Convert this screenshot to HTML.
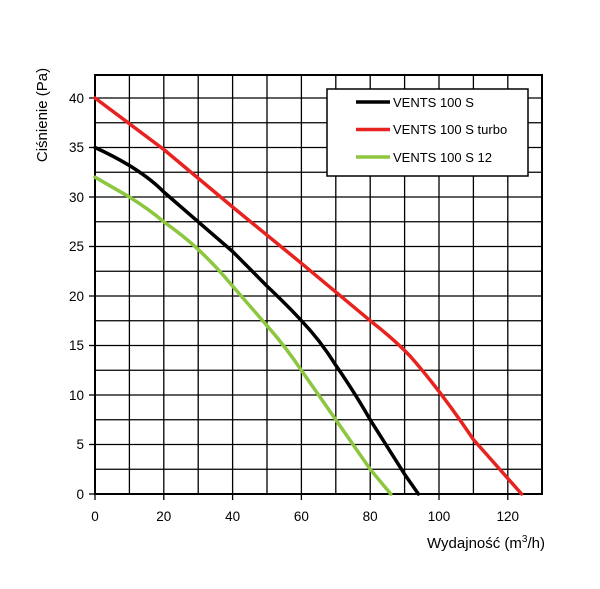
<!DOCTYPE html>
<html><head><meta charset="utf-8"><style>
html,body{margin:0;padding:0;background:#fff;}
svg{display:block;font-family:"Liberation Sans",sans-serif;}
</style></head><body>
<svg width="600" height="589" viewBox="0 0 600 589" xmlns="http://www.w3.org/2000/svg">
<g stroke="#000" stroke-width="1.3">
<line x1="129.4" y1="75" x2="129.4" y2="494"/><line x1="163.8" y1="75" x2="163.8" y2="494"/>
<line x1="198.2" y1="75" x2="198.2" y2="494"/><line x1="232.6" y1="75" x2="232.6" y2="494"/>
<line x1="267" y1="75" x2="267" y2="494"/><line x1="301.4" y1="75" x2="301.4" y2="494"/>
<line x1="335.8" y1="75" x2="335.8" y2="494"/><line x1="370.2" y1="75" x2="370.2" y2="494"/>
<line x1="404.6" y1="75" x2="404.6" y2="494"/><line x1="439" y1="75" x2="439" y2="494"/>
<line x1="473.4" y1="75" x2="473.4" y2="494"/><line x1="507.8" y1="75" x2="507.8" y2="494"/>
<line x1="95" y1="469.25" x2="542" y2="469.25"/><line x1="95" y1="444.5" x2="542" y2="444.5"/>
<line x1="95" y1="419.75" x2="542" y2="419.75"/><line x1="95" y1="395" x2="542" y2="395"/>
<line x1="95" y1="370.25" x2="542" y2="370.25"/><line x1="95" y1="345.5" x2="542" y2="345.5"/>
<line x1="95" y1="320.75" x2="542" y2="320.75"/><line x1="95" y1="296" x2="542" y2="296"/>
<line x1="95" y1="271.25" x2="542" y2="271.25"/><line x1="95" y1="246.5" x2="542" y2="246.5"/>
<line x1="95" y1="221.75" x2="542" y2="221.75"/><line x1="95" y1="197" x2="542" y2="197"/>
<line x1="95" y1="172.25" x2="542" y2="172.25"/><line x1="95" y1="147.5" x2="542" y2="147.5"/>
<line x1="95" y1="122.75" x2="542" y2="122.75"/><line x1="95" y1="98" x2="542" y2="98"/>
<line x1="89" y1="98" x2="95" y2="98"/><line x1="89" y1="147.5" x2="95" y2="147.5"/>
<line x1="89" y1="197" x2="95" y2="197"/><line x1="89" y1="246.5" x2="95" y2="246.5"/>
<line x1="89" y1="296" x2="95" y2="296"/><line x1="89" y1="345.5" x2="95" y2="345.5"/>
<line x1="89" y1="395" x2="95" y2="395"/><line x1="89" y1="444.5" x2="95" y2="444.5"/>
<line x1="89" y1="494" x2="95" y2="494"/>
<line x1="95" y1="494" x2="95" y2="500"/><line x1="163.8" y1="494" x2="163.8" y2="500"/>
<line x1="232.6" y1="494" x2="232.6" y2="500"/><line x1="301.4" y1="494" x2="301.4" y2="500"/>
<line x1="370.2" y1="494" x2="370.2" y2="500"/><line x1="439" y1="494" x2="439" y2="500"/>
<line x1="507.8" y1="494" x2="507.8" y2="500"/>
</g>
<rect x="95" y="75" width="447" height="419" fill="none" stroke="#000" stroke-width="2"/>
<g fill="none" stroke-width="3.5" stroke-linejoin="round" stroke-linecap="round">
<path stroke="#e8231f" d="M95,98 L163.8,149.5 L232.6,207 L301.4,263.3 L370.2,320.7 Q395,340 410,356 Q440,390 473.4,439.5 L521.6,494"/>
<path stroke="#000" d="M95,147.5 Q140,168 163.8,192 L198.2,221.8 L232.6,251.5 L267,286.1 Q290,308 301.4,320.7 Q320,340 335.8,365.3 Q355,393 370.2,419.8 L404.6,474.2 L418.4,494"/>
<path stroke="#8dc63f" d="M95,177.2 L129.4,197 Q150,210 163.8,221.8 Q185,237 198.2,249.5 Q215,265 232.6,286.1 L267,325.7 Q285,346 301.4,370.3 L335.8,419.8 L370.2,469.3 L390.8,494"/>
</g>
<rect x="327" y="89" width="201" height="87" fill="#fff" stroke="#000" stroke-width="1.5"/>
<g stroke-width="3.5">
<line x1="356" y1="102" x2="390" y2="102" stroke="#000"/>
<line x1="356" y1="129.5" x2="390" y2="129.5" stroke="#e8231f"/>
<line x1="356" y1="157" x2="390" y2="157" stroke="#8dc63f"/>
</g>
<g font-size="13" fill="#000">
<text x="393" y="107">VENTS 100 S</text>
<text x="393" y="134">VENTS 100 S turbo</text>
<text x="393" y="162">VENTS 100 S 12</text>
</g>
<g font-size="13.5" fill="#000" text-anchor="end">
<text x="84" y="103">40</text><text x="84" y="152">35</text><text x="84" y="202">30</text>
<text x="84" y="251">25</text><text x="84" y="301">20</text><text x="84" y="350">15</text>
<text x="84" y="400">10</text><text x="84" y="449">5</text><text x="84" y="499">0</text>
</g>
<g font-size="13.5" fill="#000" text-anchor="middle">
<text x="95" y="521">0</text><text x="163.8" y="521">20</text><text x="232.6" y="521">40</text>
<text x="301.4" y="521">60</text><text x="370.2" y="521">80</text><text x="439" y="521">100</text>
<text x="507.8" y="521">120</text>
</g>
<text x="545" y="548" font-size="15" text-anchor="end">Wydajność (m<tspan font-size="10" dy="-6">3</tspan><tspan dy="6">/h)</tspan></text>
<text transform="translate(47,115) rotate(-90)" font-size="15" text-anchor="middle">Ciśnienie (Pa)</text>
</svg>
</body></html>
